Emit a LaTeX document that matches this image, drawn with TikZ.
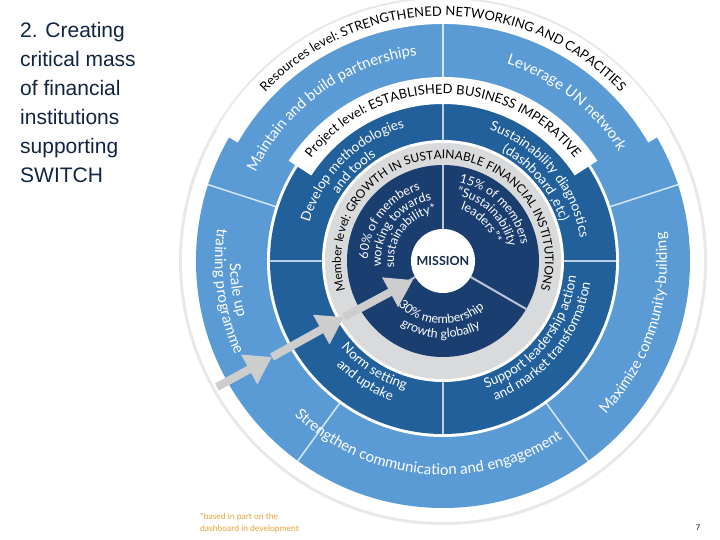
\documentclass[tikz,border=0pt]{standalone}
\usepackage{fontspec}
\setmainfont{Lato}
\newfontfamily\arialf{Liberation Sans}
\usetikzlibrary{decorations.text,calc,arrows.meta}
\definecolor{outerblue}{HTML}{5B9BD5}
\definecolor{midblue}{HTML}{22609C}
\definecolor{innerblue}{HTML}{1B3E70}
\definecolor{ringgrey}{HTML}{D9DADC}
\definecolor{arrowgrey}{HTML}{CDCDCD}
\definecolor{noteorange}{HTML}{E8A23A}
\newcommand\ctext[5]{\path[decorate,decoration={text along path,text align=center,text color=#5,text={#4}}] ($(M)+(#2:#1)$) arc[start angle=#2,end angle=#3,radius=#1];}
\newcommand\band[4]{\fill[white] ($(M)+(#1:#3)$) arc[start angle=#1,end angle=#2,radius=#3] -- ($(M)+(#2:#4)$) arc[start angle=#2,end angle=#1,radius=#4] -- cycle;}
\newcommand\fO{\fontsize{15}{15}\selectfont}
\newcommand\fM{\fontsize{13.5}{14}\selectfont}
\newcommand\fI{\fontsize{12.5}{13}\selectfont}
\newcommand\fL{\fontsize{13}{13}\selectfont}
\newcommand\fLs{\fontsize{12}{12}\selectfont}
\tikzset{divline/.style={white!75!outerblue,line width=1.5pt},
 innerdiv/.style={white!70!innerblue,line width=2pt},
 bigarrow/.style={arrowgrey,line width=8pt,-{Triangle[width=32pt,length=26pt]}}}
\begin{document}
\begin{tikzpicture}[x=1pt,y=1pt]
\useasboundingbox (0,0) rectangle (720,540);
\fill[white] (0,0) rectangle (720,540);
\coordinate (M) at (443,279);
% rings
\fill[gray!18] (M) circle (264);
\fill[white] (M) circle (261);
\fill[outerblue] (M) circle (247);
\band{150}{30}{237}{262}
\foreach \a in {18,162,234,306} \draw[divline] ($(M)+(\a:173)$) -- ($(M)+(\a:247)$);
\draw[divline] ($(M)+(90:184)$) -- ($(M)+(90:237)$);
\fill[white] (M) circle (176);
\fill[midblue] (M) circle (173);
\band{147}{33}{157}{184}
\foreach \a in {0,180,270} \draw[white!70!midblue,line width=1.5pt] ($(M)+(\a:118)$) -- ($(M)+(\a:173)$);
\draw[white!70!midblue,line width=1.5pt] ($(M)+(90:118)$) -- ($(M)+(90:157)$);
\fill[white] (M) circle (121);
\fill[ringgrey] (M) circle (118);
\fill[innerblue] (M) circle (96);
\foreach \a in {90,210,330} \draw[innerdiv] ($(M)+(\a:32)$) -- ($(M)+(\a:96)$);
% level labels
\ctext{245}{152}{28}{|\fL|Resources level: STRENGTHENED NETWORKING AND CAPACITIES}{black}
\ctext{167}{152}{28}{|\fL|Project level: ESTABLISHED BUSINESS IMPERATIVE}{black}
\ctext{102}{212}{-32}{|\fLs|Member level: GROWTH IN SUSTAINABLE FINANCIAL INSTITUTIONS}{black}
% outer ring texts
\ctext{207}{166}{86}{|\fO|Maintain and build partnerships}{white}
\ctext{207}{84}{20}{|\fO|Leverage UN network}{white}
\ctext{224}{-64}{28}{|\fO|Maximize community-building}{white}
\ctext{214}{220}{310}{|\fO|Strengthen communication and engagement}{white}
\ctext{213}{148}{228}{|\fO|Scale up}{white}
\ctext{228}{148}{228}{|\fO|training programme}{white}
% mid ring texts
\ctext{139}{182}{88}{|\fM|Develop methodologies}{white}
\ctext{124}{182}{88}{|\fM|and tools}{white}
\ctext{139}{87}{-7}{|\fM|Sustainability diagnostics}{white}
\ctext{124}{87}{-7}{|\fM|(dashboard ,etc)}{white}
\ctext{134}{190}{284}{|\fM|Norm setting}{white}
\ctext{149}{190}{284}{|\fM|and uptake}{white}
\ctext{134}{274}{368}{|\fM|Support leadership action}{white}
\ctext{149}{274}{368}{|\fM|and market transformation}{white}
% inner texts
\ctext{75}{202}{84}{|\fI|60{\%} of members}{white}
\ctext{62}{202}{84}{|\fI|working towards}{white}
\ctext{49}{202}{84}{|\fI|sustainability*}{white}
\ctext{80}{106}{-16}{|\fI|15{\%} of members}{white}
\ctext{67}{106}{-16}{|\fI|"Sustainability}{white}
\ctext{54}{106}{-16}{|\fI|leaders"*}{white}
\ctext{63}{212}{324}{|\fI|30{\%} membership}{white}
\ctext{77}{212}{324}{|\fI|growth globally}{white}
% arrow
\coordinate (s) at (217,153);
\coordinate (a1) at (272,183);
\coordinate (a2) at (344,223);
\coordinate (a3) at (413,260);
\draw[bigarrow] (s) -- (a1);
\draw[bigarrow] (a1) -- (a2);
\draw[bigarrow] (a2) -- (a3);
\node[circle,fill=white,minimum size=64pt,inner sep=0pt,font=\fontsize{12.5}{12}\selectfont\bfseries,text=innerblue!70!black] (mission) at (M) {MISSION};
% left title
\node[anchor=north west,align=left,inner sep=0pt,font=\arialf\fontsize{21}{29}\selectfont,text=innerblue!60!black] (title) at (20,518) {2. Creating\\critical mass\\of financial\\institutions\\supporting\\SWITCH};
\node[anchor=north west,align=left,inner sep=0pt,font=\fontsize{8.5}{12}\selectfont,text=noteorange] (note) at (200,27) {*based in part on the\\dashboard in development};
\node[font=\arialf\fontsize{8}{8}\selectfont] (pnum) at (698,12) {7};
\end{tikzpicture}
\end{document}
